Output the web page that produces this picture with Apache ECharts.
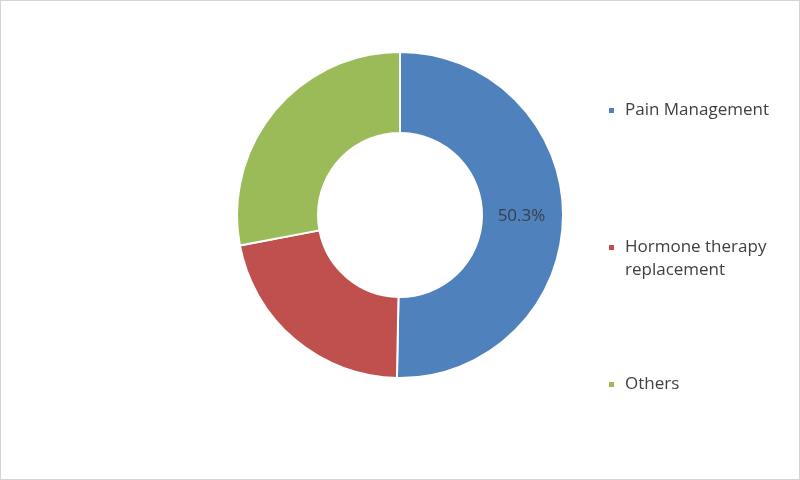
<!DOCTYPE html>
<html>
<head>
<meta charset="utf-8">
<script src="https://cdn.jsdelivr.net/npm/echarts@6/dist/echarts.min.js"></script>
<style>
html,body{margin:0;padding:0;background:#fff;}
#c{width:800px;height:480px;box-sizing:border-box;border:1px solid #d4d4d4;}
</style>
</head>
<body>
<div id="c"></div>
<script>
const categories = ["Pain Management", "Hormone therapy\nreplacement", "Others"];
const values = [50.3, 21.7, 28.0];
const colors = ["#4f81bd", "#c0504d", "#9bbb59"];
const labeled = [true, false, false];

const chart = echarts.init(document.getElementById('c'), null, {renderer: 'canvas'});
const LH = 23;
const legendTops = [98, 212, 372];
const legends = categories.map((name, i) => ({
  data: [name],
  orient: 'vertical',
  left: 606,
  top: legendTops[i],
  padding: 0,
  icon: 'rect',
  itemWidth: 7,
  itemHeight: 7,
  selectedMode: false,
  formatter: function (n) {
    const lines = n.split('\n').map(l => '{s|}{t|' + l + '}');
    if (lines.length > 1) {
      // keep the marker level with the first line
      const pad = [];
      for (let k = 1; k < lines.length; k++) pad.push('{s|}');
      return pad.concat(lines).join('\n');
    }
    return lines[0];
  },
  textStyle: {
    fontFamily: 'Open Sans', fontSize: 17, color: '#404040', lineHeight: LH,
    rich: {
      s: {width: 5, lineHeight: LH, fontSize: 17},
      t: {fontFamily: 'Open Sans', fontSize: 17, color: '#404040', lineHeight: LH}
    }
  }
}));
chart.setOption({
  animation: false,
  legend: legends,
  series: [{
    type: 'pie',
    center: [399, 214],
    radius: [82, 163],
    startAngle: 90,
    clockwise: true,
    itemStyle: {borderColor: '#fff', borderWidth: 2},
    label: {show: false},
    labelLine: {show: false},
    emphasis: {disabled: true},
    data: categories.map((name, i) => ({
      name: name,
      value: values[i],
      itemStyle: {color: colors[i]},
      label: {
        show: labeled[i],
        position: 'inside',
        formatter: '{c}%',
        fontFamily: 'Open Sans',
        fontSize: 17,
        offset: [-4, 0],
        color: '#3a3f4a'
      }
    }))
  }]
});
</script>
</body>
</html>
